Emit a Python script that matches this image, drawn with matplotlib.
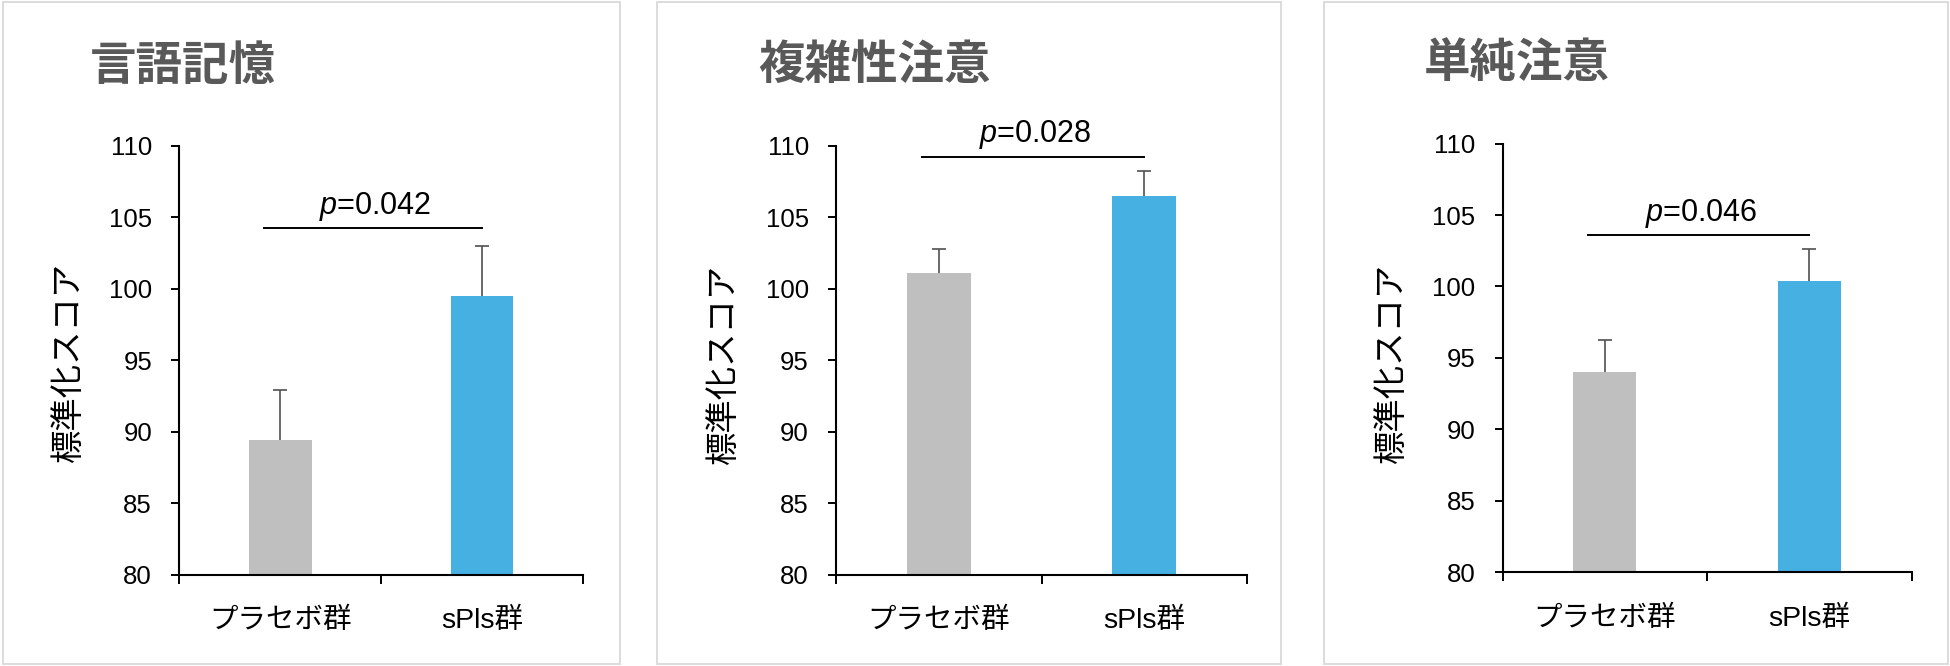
import matplotlib
matplotlib.use("Agg")
import matplotlib.pyplot as plt
from matplotlib.patches import Rectangle
import numpy as np

plt.rcParams['font.family'] = ['Liberation Sans', 'Noto Sans CJK JP']
plt.rcParams['mathtext.fontset'] = 'custom'
plt.rcParams['mathtext.it'] = 'Liberation Sans:italic'
plt.rcParams['mathtext.rm'] = 'Liberation Sans'

# ---- data ----
groups = ['プラセボ群', 'sPls群']
titles = ['言語記憶', '複雑性注意', '単純注意']
means = [[89.4, 99.5], [101.1, 106.5], [94.0, 100.4]]
errors = [[3.55, 3.5], [1.7, 1.75], [2.25, 2.25]]
pvalues = ['0.042', '0.028', '0.046']
sig_y = [104.25, 109.2, 103.6]
ptext_y = [105.2, 110.28, 104.6]
ylabel = '標準化スコア'
yticks = [80, 85, 90, 95, 100, 105, 110]

bar_colors = ['#BFBFBF', '#45B0E1']

W, H = 1950, 666
fig = plt.figure(figsize=(W / 100, H / 100), dpi=100)

def fx(px):
    return px / W

def fy(py):
    return 1 - py / H

# axes pixel boxes: left, right, top(110), bottom(80)
axes_px = [(179.3, 583.0, 145.7, 574.7),
           (836.0, 1247.0, 145.7, 574.7),
           (1502.5, 1911.6, 143.6, 572.2)]
panel_px = [(3, 620, 2, 664), (657, 1281, 2, 664), (1324, 1948, 2, 664)]
title_px = [(90, 66), (758, 65), (1424, 63)]
ylabel_px = [(68, 362), (723, 364), (1391, 363)]

for i in range(3):
    x0, x1, y0, y1 = panel_px[i]
    fig.patches.append(Rectangle((fx(x0), fy(y1)), fx(x1 - x0), (y1 - y0) / H,
                                 transform=fig.transFigure, fill=False,
                                 edgecolor='#D9D9D9', linewidth=1.3))
    l, r, t, b = axes_px[i]
    ax = fig.add_axes([fx(l), fy(b), fx(r - l), (b - t) / H])
    x = np.arange(len(groups))
    ax.bar(x, means[i], width=0.31, color=bar_colors, zorder=3)
    eb = ax.errorbar(x, means[i], yerr=[np.zeros(2), errors[i]], fmt='none',
                     ecolor='#505050', elinewidth=1.2, capsize=5.2, capthick=1.2,
                     zorder=2)
    eb[1][0].set_visible(False)
    ax.set_xlim(-0.5, 1.5)
    ax.set_ylim(80, 110)
    ax.set_yticks(yticks)
    ax.set_xticks(x)
    ax.set_xticklabels(groups, fontsize=20.5)
    ax.set_xticks([-0.5, 0.5, 1.5], minor=True)
    ax.tick_params(axis='x', which='major', length=0, pad=24)
    ax.tick_params(axis='x', which='minor', length=6.5, width=1.4, direction='out')
    ax.tick_params(axis='y', which='major', length=6.1, width=1.4, direction='out',
                   labelsize=18.5, pad=13.5)
    for side in ['top', 'right']:
        ax.spines[side].set_visible(False)
    for side in ['left', 'bottom']:
        ax.spines[side].set_linewidth(1.5)
        ax.spines[side].set_color('black')
        ax.spines[side].set_zorder(4)
    ax.plot([-0.08, 1.0], [sig_y[i], sig_y[i]], color='black', lw=1.4,
            clip_on=False, zorder=4)
    ax.text(0.47, ptext_y[i], '$p$=' + pvalues[i], ha='center', va='baseline',
            fontsize=22, clip_on=False)
    fig.text(fx(title_px[i][0]), fy(title_px[i][1]), titles[i],
             family=['Noto Sans CJK JP'], fontweight='bold', fontsize=33.5,
             color='#595959', ha='left', va='center')
    fig.text(fx(ylabel_px[i][0]), fy(ylabel_px[i][1]), ylabel,
             family=['Noto Sans CJK JP'], fontsize=24, rotation=90,
             ha='center', va='center', color='black')

fig.savefig('out.png', dpi=100, facecolor='white')
